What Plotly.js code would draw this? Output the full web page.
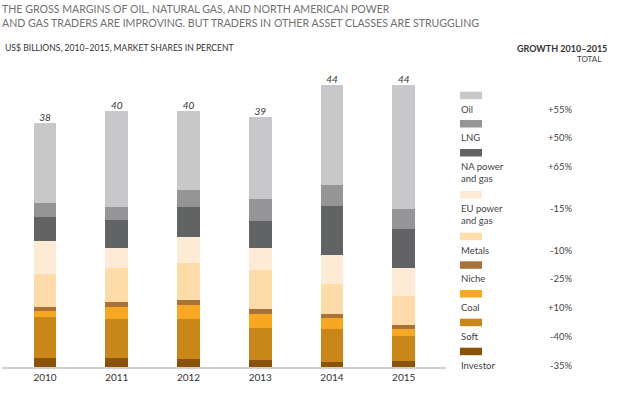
<!DOCTYPE html>
<html>
<head>
<meta charset="utf-8">
<script src="https://cdn.plot.ly/plotly-3.0.1.min.js"></script>
<style>html,body{margin:0;padding:0;background:#fff;}#chart{width:619px;height:393px;}</style>
</head>
<body>
<div id="chart"></div>
<script>
var years = ['2010', '2011', '2012', '2013', '2014', '2015'];
var totals = [38, 40, 40, 39, 44, 44];

// stacked from bottom to top
var investor = [1.46, 1.46, 1.20, 1.09, 0.83, 0.94];
var soft     = [6.40, 5.99, 6.25, 5.06, 5.16, 3.96];
var coal     = [0.84, 1.87, 2.19, 2.08, 1.61, 0.99];
var niche    = [0.73, 0.84, 0.83, 0.78, 0.63, 0.62];
var metals   = [5.10, 5.31, 5.78, 6.09, 4.79, 4.53];
var euPower  = [5.21, 3.18, 4.01, 3.55, 4.48, 4.38];
var naPower  = [3.75, 4.32, 4.69, 4.11, 7.60, 6.19];
var lng      = [2.19, 2.03, 2.71, 3.54, 3.39, 3.08];
var oil      = [12.45, 15.05, 12.39, 12.76, 15.52, 19.32];

var seriesNames = ['Investor', 'Soft', 'Coal', 'Niche', 'Metals', 'EU power<br>and gas', 'NA power<br>and gas', 'LNG', 'Oil'];
var seriesValues = [investor, soft, coal, niche, metals, euPower, naPower, lng, oil];
var seriesColors = ['#8b5309', '#ca8719', '#f7a823', '#a97338', '#fddcaa', '#fdebd6', '#626365', '#959597', '#c8c8ca'];
var growth = ['-35%', '-40%', '+10%', '-25%', '-10%', '-15%', '+65%', '+50%', '+55%'];

// layout geometry (pixels)
var W = 619, H = 393;
var M = {l: 2, r: 173, t: 73, b: 26};
var PW = W - M.l - M.r, PH = H - M.t - M.b;
function px(x) { return (x - M.l) / PW; }
function py(y) { return 1 - (y - M.t) / PH; }

var traces = seriesValues.map(function (vals, i) {
  return {
    type: 'bar',
    x: years.map(function (_, k) { return k; }),
    y: vals,
    name: seriesNames[i],
    marker: {color: seriesColors[i], line: {width: 0}},
    width: 0.315,
    hoverinfo: 'skip',
    showlegend: false
  };
});

traces.push({
  type: 'scatter',
  mode: 'text',
  x: years.map(function (_, k) { return k; }),
  y: totals,
  text: totals.map(String),
  textposition: 'top center',
  textfont: {family: 'Lato, sans-serif', size: 10, color: '#333', style: 'italic'},
  hoverinfo: 'skip',
  showlegend: false,
  cliponaxis: false
});

var shapes = [];
var annotations = [];

// legend: top entry is Oil
var legendSwatchTop = [91.7, 120, 149, 191, 232.7, 261.3, 290, 318.7, 347.7];
var legendOrder = [8, 7, 6, 5, 4, 3, 2, 1, 0];
legendOrder.forEach(function (si, j) {
  var top = legendSwatchTop[j];
  shapes.push({
    type: 'rect', xref: 'paper', yref: 'paper',
    x0: px(460), x1: px(482), y0: py(top + 7.5), y1: py(top),
    fillcolor: seriesColors[si], line: {width: 0}
  });
  annotations.push({
    xref: 'paper', yref: 'paper', x: px(459), y: py(top + 10),
    xanchor: 'left', yanchor: 'top', align: 'left',
    text: seriesNames[si], showarrow: false,
    font: {family: 'Lato, sans-serif', size: 9.5, color: '#444'}
  });
  annotations.push({
    xref: 'paper', yref: 'paper', x: px(575), y: py(top + 10),
    xanchor: 'right', yanchor: 'top', align: 'right',
    text: growth[si], showarrow: false,
    font: {family: 'Lato, sans-serif', size: 9.5, color: '#444'}
  });
});

// titles
annotations.push({
  xref: 'paper', yref: 'paper', x: px(0), y: py(1), xanchor: 'left', yanchor: 'top', align: 'left',
  text: 'THE GROSS MARGINS OF OIL, NATURAL GAS, AND NORTH AMERICAN POWER<br>AND GAS TRADERS ARE IMPROVING. BUT TRADERS IN OTHER ASSET CLASSES ARE STRUGGLING',
  showarrow: false, font: {family: 'Lato, sans-serif', size: 10.6, color: '#707070'}
});
annotations.push({
  xref: 'paper', yref: 'paper', x: px(3), y: py(41), xanchor: 'left', yanchor: 'top', align: 'left',
  text: 'US$ BILLIONS, 2010–2015, MARKET SHARES IN PERCENT',
  showarrow: false, font: {family: 'Lato, sans-serif', size: 8.6, color: '#333'}
});
annotations.push({
  xref: 'paper', yref: 'paper', x: px(609), y: py(41), xanchor: 'right', yanchor: 'top', align: 'right',
  text: '<b>GROWTH 2010–2015</b>',
  showarrow: false, font: {family: 'Lato, sans-serif', size: 9, color: '#333'}
});
annotations.push({
  xref: 'paper', yref: 'paper', x: px(589), y: py(52), xanchor: 'center', yanchor: 'top',
  text: 'TOTAL',
  showarrow: false, font: {family: 'Lato, sans-serif', size: 8, color: '#444'}
});

var layout = {
  width: W, height: H,
  margin: M,
  paper_bgcolor: '#fff', plot_bgcolor: '#fff',
  barmode: 'stack',
  bargap: 0,
  showlegend: false,
  xaxis: {
    range: [-0.6, 5.59],
    tickvals: [0, 1, 2, 3, 4, 5],
    ticktext: years,
    showgrid: false, zeroline: false,
    showline: true, linecolor: '#d0d0d0', linewidth: 1.5,
    ticks: '', ticklen: 0,
    tickfont: {family: 'Lato, sans-serif', size: 10, color: '#333'},
    fixedrange: true
  },
  yaxis: {
    range: [0, PH / 6.4],
    visible: false,
    showgrid: false, zeroline: false,
    fixedrange: true
  },
  shapes: shapes,
  annotations: annotations
};

Plotly.newPlot('chart', traces, layout, {staticPlot: true, displayModeBar: false});
</script>
</body>
</html>
